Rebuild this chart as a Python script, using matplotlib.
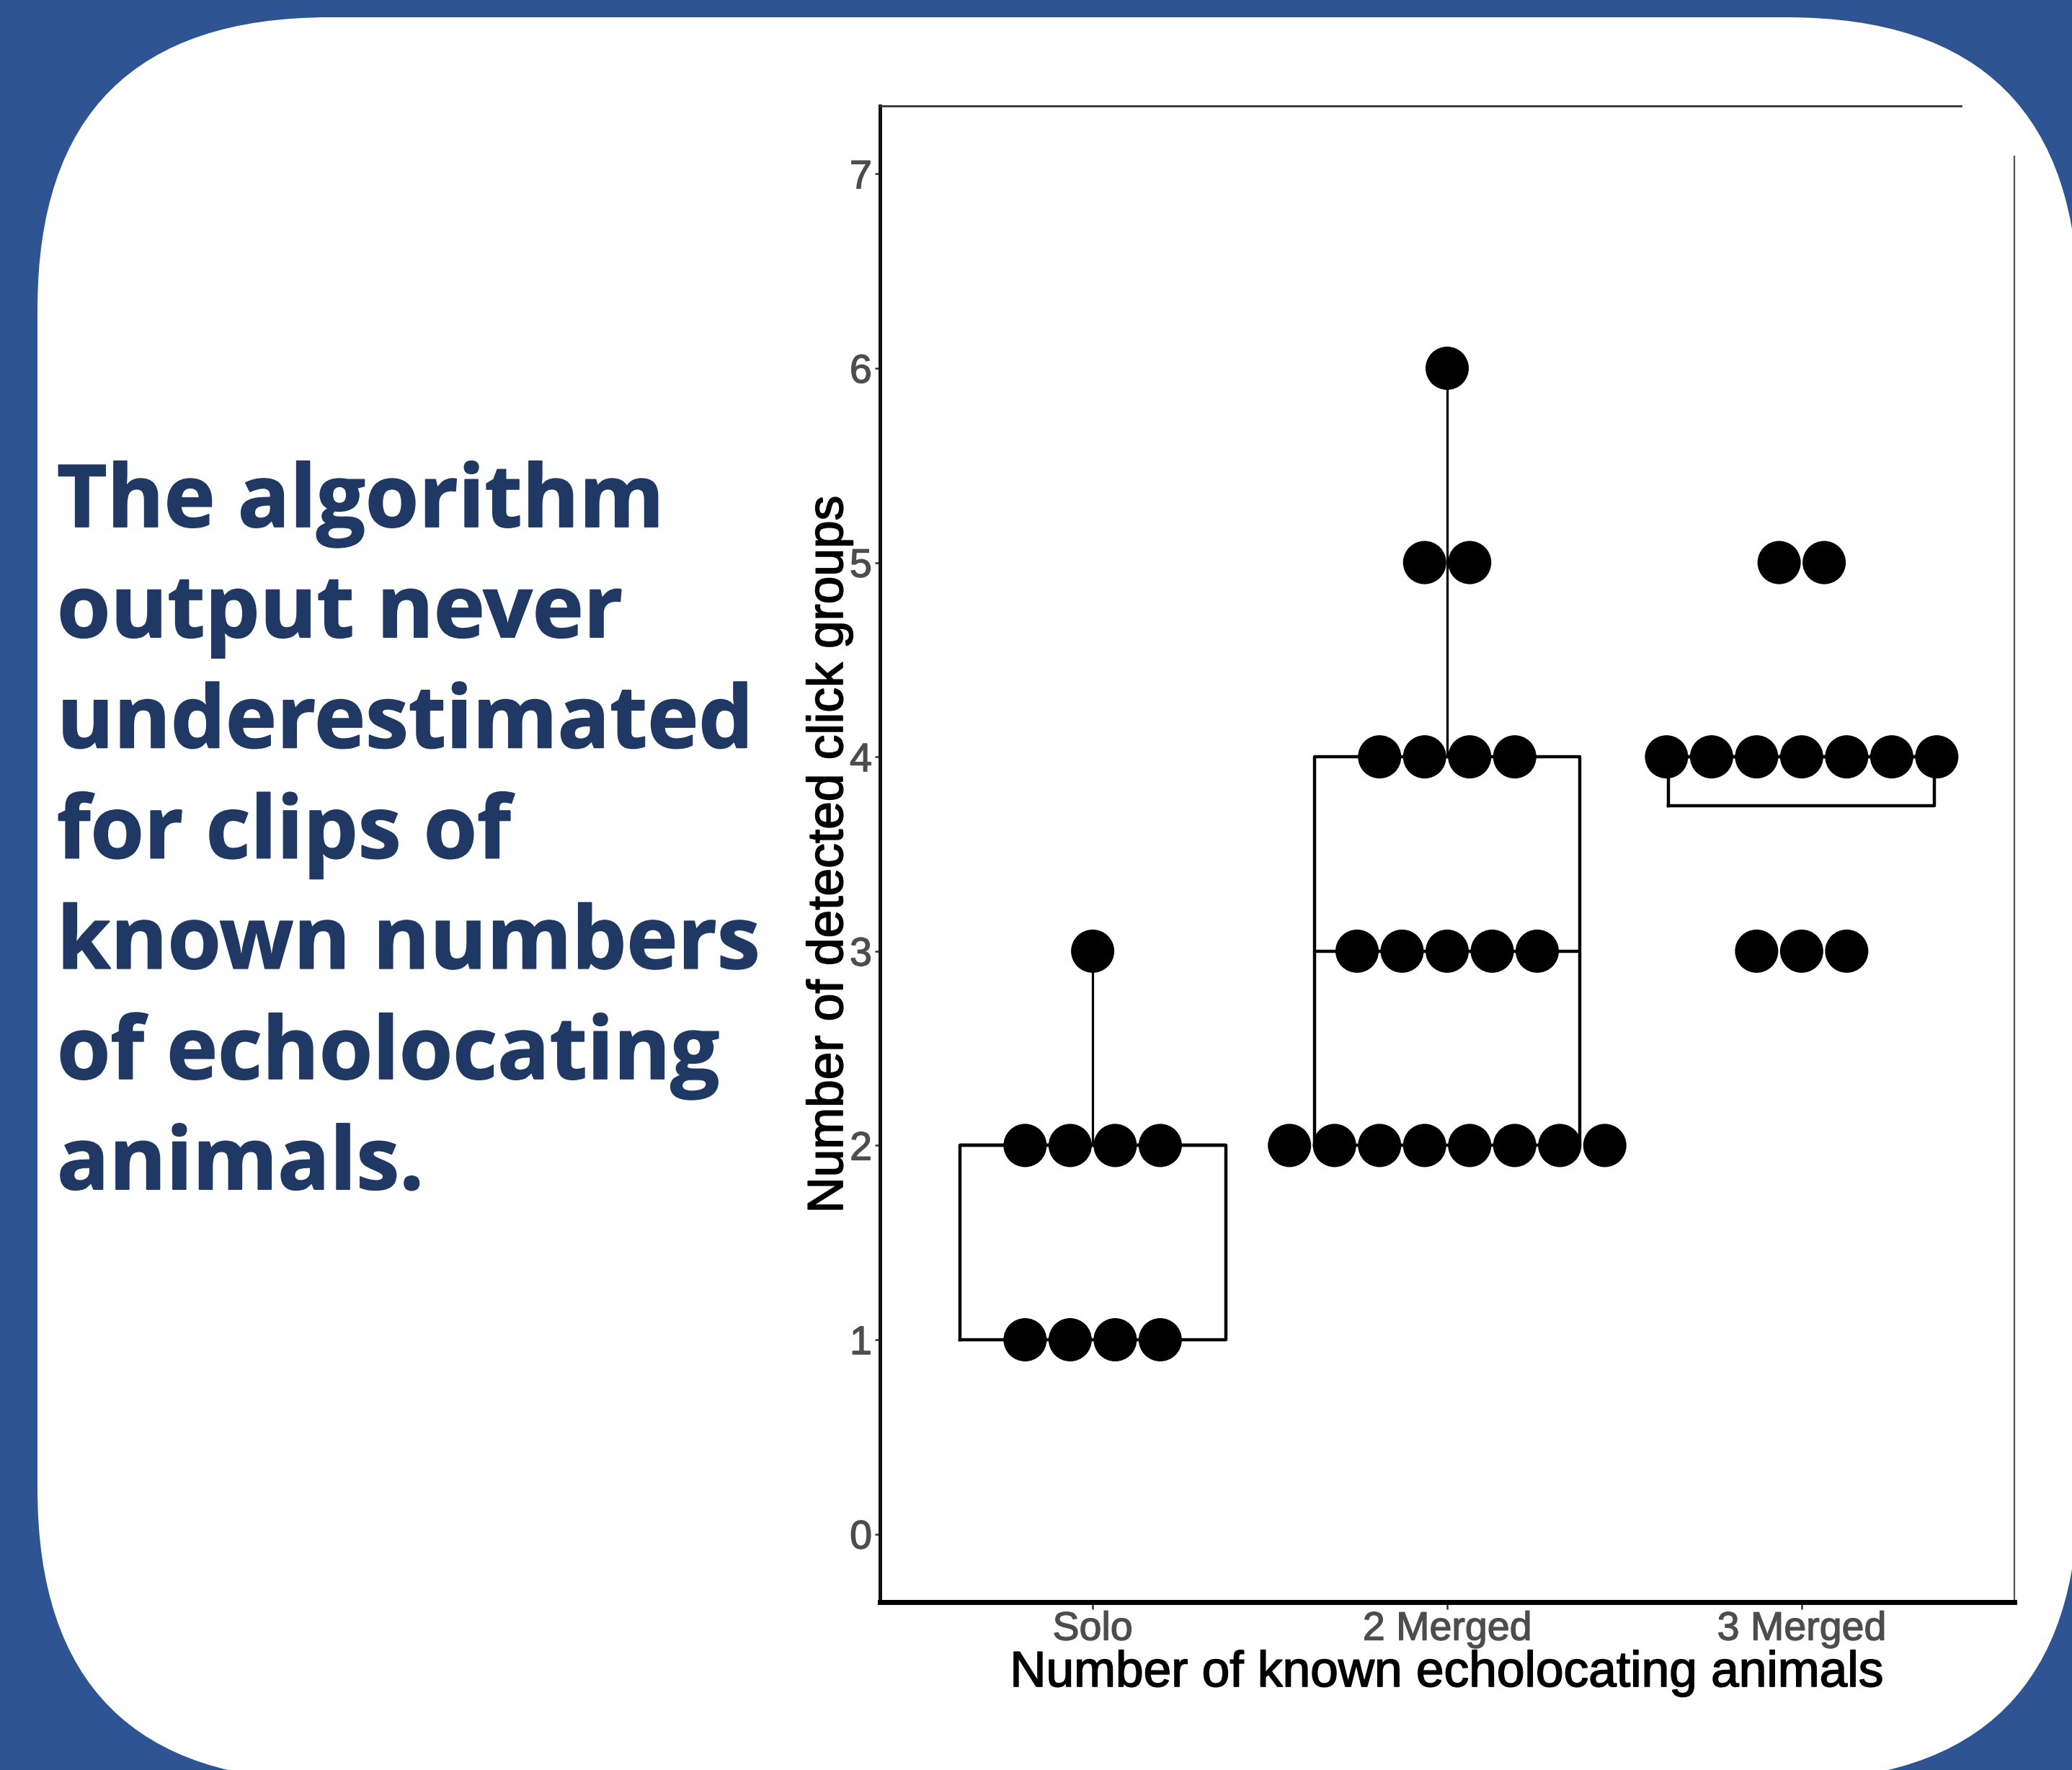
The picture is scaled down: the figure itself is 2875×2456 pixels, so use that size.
import numpy as np
import matplotlib
matplotlib.use("Agg")
import matplotlib.pyplot as plt
import matplotlib.patheffects as pe
from matplotlib.patches import FancyBboxPatch
from matplotlib.transforms import IdentityTransform

# --- data ---
categories = ["Solo", "2 Merged", "3 Merged"]
solo_values = [1, 1, 1, 1, 2, 2, 2, 2, 3]
two_merged_values = [2, 2, 2, 2, 2, 2, 2, 2, 3, 3, 3, 3, 3, 4, 4, 4, 4, 5, 5, 6]
three_merged_values = [3, 3, 3, 4, 4, 4, 4, 4, 4, 4, 5, 5]
y_ticks = [0, 1, 2, 3, 4, 5, 6, 7]

headline_lines = [
    "The algorithm",
    "output never",
    "underestimated",
    "for clips of",
    "known numbers",
    "of echolocating",
    "animals.",
]

x_label = "Number of known echolocating animals"
y_label = "Number of detected click groups"

BG_BLUE = "#2E5494"
TEXT_NAVY = "#1F3864"
TICK_GRAY = "#4D4D4D"

W, H = 2875, 2456
fig = plt.figure(figsize=(W / 100, H / 100), dpi=100)
fig.patch.set_facecolor(BG_BLUE)

# white rounded panel (pixel coords), kept behind the axes
panel = FancyBboxPatch((52, H - 2471), 2884 - 52, 2471 - 24,
                       boxstyle="round,pad=0,rounding_size=405",
                       transform=IdentityTransform(), facecolor="white",
                       edgecolor="none", zorder=-5)
fig.patches.append(panel)

# headline text, one baseline per line
for i, line in enumerate(headline_lines):
    y_px = 731 + 153.2 * i
    fig.text(79 / W, 1 - y_px / H, line, fontsize=86.5, fontweight="bold",
             family="Open Sans", color=TEXT_NAVY, ha="left", va="baseline",
             path_effects=[pe.withStroke(linewidth=1.2, foreground=TEXT_NAVY)])

# plot area
ax_l, ax_r, ax_t, ax_b = 1221, 2795, 147, 2223
ax = fig.add_axes([ax_l / W, 1 - ax_b / H, (ax_r - ax_l) / W, (ax_b - ax_t) / H])
ax.set_zorder(2)
ax.set_facecolor("white")
xmin, xmax = 0.4, 3.6
ymin, ymax = -0.35, 7.35
ax.set_xlim(xmin, xmax)
ax.set_ylim(ymin, ymax)

groups = [solo_values, two_merged_values, three_merged_values]
positions = np.arange(1, len(categories) + 1)

lw_box = 3.2
ax.boxplot(groups, positions=positions, widths=0.75, whis=1.5,
           showfliers=False, showcaps=False, patch_artist=False,
           boxprops=dict(color="black", linewidth=lw_box),
           whiskerprops=dict(color="black", linewidth=2.3),
           medianprops=dict(color="black", linewidth=lw_box),
           zorder=2)

# centered dot stacks (like geom_dotplot, stackdir = "center")
dot_px = 60
step_px = 62.5
step_x = step_px / (ax_r - ax_l) * (xmax - xmin)
for pos, vals in zip(positions, groups):
    vals = np.asarray(vals)
    for v in np.unique(vals):
        n = int((vals == v).sum())
        xs = pos + (np.arange(n) - (n - 1) / 2) * step_x
        ax.scatter(xs, np.full(n, v), s=(dot_px * 0.72) ** 2, color="black",
                   edgecolors="none", zorder=3)

# axes look
ax.spines["left"].set_linewidth(3.6)
ax.spines["left"].set_color("#111111")
ax.spines["bottom"].set_linewidth(5.0)
ax.spines["bottom"].set_color("black")
ax.spines["top"].set_linewidth(2.0)
ax.spines["top"].set_color("#333333")
ax.spines["right"].set_linewidth(1.6)
ax.spines["right"].set_color("#555555")
ax.spines["top"].set_bounds(xmin, 3.45)
ax.spines["right"].set_bounds(ymin, 7.09)

ax.set_yticks(y_ticks)
ax.set_yticklabels([str(t) for t in y_ticks])
ax.set_xticks(positions)
ax.set_xticklabels(categories)
ax.tick_params(axis="y", length=5, width=1.8, color="#333333", pad=3,
               labelsize=40, labelcolor=TICK_GRAY)
ax.tick_params(axis="x", length=7, width=1.8, color="#333333", pad=2,
               labelsize=40, labelcolor=TICK_GRAY)
for lab in ax.get_xticklabels() + ax.get_yticklabels():
    lab.set_family("Liberation Sans")
    lab.set_path_effects([pe.withStroke(linewidth=1.0, foreground=TICK_GRAY)])

ax.set_xlabel(x_label, fontsize=50, family="Liberation Sans", color="black")
ax.set_ylabel(y_label, fontsize=50, family="Liberation Sans", color="black")
for lab in (ax.xaxis.label, ax.yaxis.label):
    lab.set_path_effects([pe.withStroke(linewidth=1.2, foreground="black")])
ax.xaxis.set_label_coords(0.5, -(2290 - ax_b) / (ax_b - ax_t))
ax.xaxis.label.set_va("top")
ax.yaxis.set_label_coords(-(ax_l - 1183) / (ax_r - ax_l), 0.5)

fig.savefig("out.png", dpi=100, facecolor=fig.get_facecolor())
